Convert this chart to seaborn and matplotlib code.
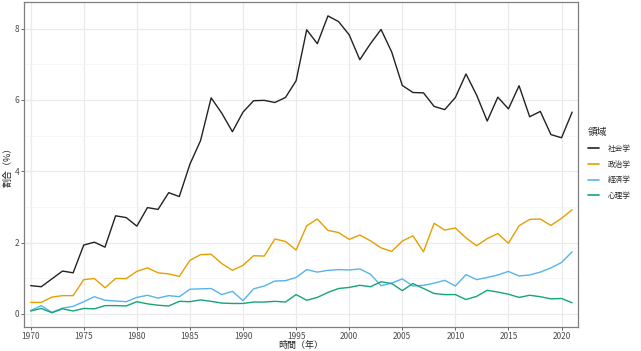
import matplotlib
matplotlib.use("Agg")
import matplotlib.pyplot as plt
from matplotlib.ticker import MultipleLocator
import numpy as np
import pandas as pd
import seaborn as sns

# share of papers per field, 1970-2021
years = list(range(1970, 2022))

sociology = [0.79, 0.76, 0.98, 1.20, 1.15, 1.93, 2.01, 1.87, 2.75, 2.70,
             2.46, 2.98, 2.93, 3.40, 3.29, 4.20, 4.86, 6.06, 5.63, 5.11,
             5.66, 5.98, 5.99, 5.93, 6.07, 6.54, 7.97, 7.58, 8.36, 8.20,
             7.83, 7.13, 7.58, 7.98, 7.35, 6.41, 6.21, 6.20, 5.82, 5.73,
             6.07, 6.73, 6.14, 5.41, 6.08, 5.75, 6.40, 5.53, 5.68, 5.03,
             4.94, 5.66]
politics = [0.32, 0.32, 0.47, 0.51, 0.51, 0.96, 0.99, 0.73, 0.99, 0.99,
            1.19, 1.29, 1.15, 1.12, 1.05, 1.50, 1.66, 1.67, 1.41, 1.22,
            1.36, 1.63, 1.62, 2.10, 2.03, 1.79, 2.47, 2.66, 2.34, 2.28,
            2.09, 2.21, 2.05, 1.85, 1.75, 2.04, 2.19, 1.74, 2.54, 2.35,
            2.41, 2.13, 1.91, 2.11, 2.25, 1.98, 2.47, 2.65, 2.66, 2.48,
            2.68, 2.92]
economics = [0.09, 0.23, 0.04, 0.16, 0.21, 0.34, 0.48, 0.38, 0.36, 0.34,
             0.46, 0.52, 0.44, 0.51, 0.48, 0.69, 0.70, 0.71, 0.54, 0.63,
             0.37, 0.70, 0.78, 0.92, 0.93, 1.02, 1.24, 1.17, 1.22, 1.24,
             1.23, 1.26, 1.11, 0.79, 0.86, 0.98, 0.78, 0.80, 0.86, 0.94,
             0.78, 1.10, 0.96, 1.02, 1.09, 1.19, 1.06, 1.09, 1.17, 1.29,
             1.44, 1.74]
psychology = [0.08, 0.15, 0.03, 0.14, 0.08, 0.15, 0.14, 0.23, 0.23, 0.22,
              0.34, 0.28, 0.24, 0.22, 0.35, 0.34, 0.39, 0.35, 0.30, 0.29,
              0.29, 0.33, 0.33, 0.35, 0.33, 0.54, 0.38, 0.46, 0.60, 0.71,
              0.74, 0.80, 0.76, 0.90, 0.85, 0.65, 0.85, 0.71, 0.57, 0.54,
              0.54, 0.40, 0.49, 0.66, 0.61, 0.55, 0.46, 0.52, 0.48, 0.42,
              0.43, 0.31]

fields = ["社会学", "政治学", "経済学", "心理学"]
colors = ["#222222", "#E69F00", "#56B4E9", "#14A57A"]

df = pd.concat([
    pd.DataFrame({"year": years, "share": vals, "field": name})
    for name, vals in zip(fields, [sociology, politics, economics, psychology])
])

sns.set_style("white")
plt.rcParams["font.family"] = ["Noto Sans CJK JP", "DejaVu Sans"]

fig = plt.figure(figsize=(6.41, 3.51), dpi=100)
ax = fig.add_axes([0.0374, 0.0684, 0.8643, 0.9259])

sns.lineplot(data=df, x="year", y="share", hue="field", hue_order=fields,
             palette=dict(zip(fields, colors)), linewidth=1.0, ax=ax)

ax.set_xlim(1969.37, 2021.55)
ax.set_ylim(-0.37, 8.75)
ax.xaxis.set_major_locator(MultipleLocator(5))
ax.yaxis.set_major_locator(MultipleLocator(2))
ax.yaxis.set_minor_locator(MultipleLocator(1))
ax.grid(which="major", color="#EBEBEB", linewidth=0.9)
ax.grid(which="minor", axis="y", color="#F3F3F3", linewidth=0.5)
ax.set_axisbelow(True)
for s in ax.spines.values():
    s.set_color("#7F7F7F")
    s.set_linewidth(0.9)

ax.tick_params(axis="both", which="major", labelsize=6, colors="#4D4D4D",
               length=2.5, width=0.6, pad=1.0, direction="out",
               bottom=True, left=True)
ax.tick_params(which="minor", length=0)
ax.set_xlabel("時間（年）", fontsize=6.5, color="#222222", labelpad=0)
ax.set_ylabel("割合（%）", fontsize=6.5, color="#222222", labelpad=1)

handles, labels = ax.get_legend_handles_labels()
ax.get_legend().remove()
leg = fig.legend(handles, labels, title="領域", loc="upper left",
                 bbox_to_anchor=(0.906, 0.657), frameon=False,
                 fontsize=5.5, title_fontsize=7, handlelength=1.5,
                 handletextpad=1.1, labelspacing=1.0)
leg._legend_box.align = "left"
for line in leg.get_lines():
    line.set_linewidth(1.2)

fig.savefig("out.png", dpi=100)
